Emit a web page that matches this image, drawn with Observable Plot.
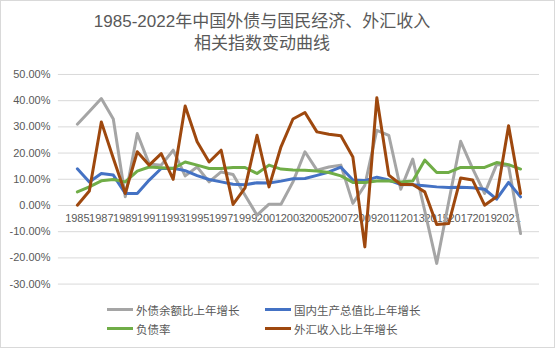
<!DOCTYPE html>
<html><head><meta charset="utf-8">
<script src="https://cdn.jsdelivr.net/npm/d3@7"></script>
<script src="https://cdn.jsdelivr.net/npm/@observablehq/plot@0.6"></script>
<style>
body{margin:0;background:#fff;}
#wrap{position:relative;width:555px;height:348px;box-sizing:border-box;border:1px solid #d9d9d9;background:#fff;overflow:hidden;}
.tl{position:absolute;left:0;width:522px;text-align:center;font-family:"Liberation Sans","Noto Sans CJK SC",sans-serif;font-size:17px;line-height:20px;height:20px;color:#595959;white-space:nowrap;}
#t1{top:11px;}
#t2{top:33px;}
#chart{position:absolute;left:-1px;top:57px;}
#legend{position:absolute;left:106px;top:299px;display:grid;grid-template-columns:158px 200px;grid-auto-rows:19px;font-family:"Noto Sans CJK SC",sans-serif;font-size:11.5px;color:#595959;}
.item{display:flex;align-items:center;white-space:nowrap;}
.sw{width:26px;height:3px;margin-right:3px;}
</style>
</head><body>
<div id="wrap">
  <div class="tl" id="t1">1985-2022年中国外债与国民经济、外汇收入</div>
  <div class="tl" id="t2">相关指数变动曲线</div>
  <div id="chart"></div>
  <div id="legend"></div>
</div>
<script>
const years = [1985,1986,1987,1988,1989,1990,1991,1992,1993,1994,1995,1996,1997,1998,1999,2000,2001,2002,2003,2004,2005,2006,2007,2008,2009,2010,2011,2012,2013,2014,2015,2016,2017,2018,2019,2020,2021,2022];
const xTickLabels = [1985,1987,1989,1991,1993,1995,1997,1999,2001,2003,2005,2007,2009,2011,2013,2015,2017,2019,2021];
const yTicks = [-30,-20,-10,0,10,20,30,40,50];
const seriesNames = ["外债余额比上年增长","国内生产总值比上年增长","负债率","外汇收入比上年增长"];
const seriesColors = ["#A5A5A5","#4472C4","#70AD47","#9E480E"];

const debtGrowth = [31.0,35.9,40.8,33.0,3.3,27.5,15.8,15.4,21.1,11.3, 14.7,9.0,12.8,11.8,3.9,-3.7,0.5,0.5,9.0,20.5, 13.5,14.7,15.4,0.8,7.7,28.7,26.8,6.2,17.7,-2.0, -22.1,1.3,24.5,14.1,4.6,15.6,15.1,-10.7];
const gdpGrowth = [14.0,9.0,12.2,11.6,4.6,4.6,9.7,14.1,14.2,13.3, 11.4,9.9,9.0,8.1,7.9,8.7,8.6,9.3,10.2,10.3, 11.5,12.8,14.6,9.7,9.5,10.8,9.7,8.0,7.9,7.5, 7.1,6.9,7.0,6.8,6.2,2.4,8.8,3.3];
const debtRatio = [5.2,7.1,9.4,9.9,9.0,13.1,14.7,14.4,14.1,16.6, 15.4,14.1,14.1,14.5,14.5,12.2,15.4,13.9,13.5,13.4, 13.2,12.6,11.3,8.8,8.8,9.3,9.3,9.0,9.3,17.3, 12.6,12.6,14.5,14.5,14.5,16.4,15.6,13.9];
const fxIncome = [0.1,5.5,31.9,18.0,4.6,20.5,15.4,19.8,10.0,38.0, 24.3,16.6,21.1,0.4,6.7,26.8,7.1,22.4,33.0,35.5, 28.1,27.2,26.6,18.5,-15.8,41.1,11.6,8.0,8.0,5.2, -7.3,-6.9,10.5,9.7,0.1,3.3,30.4,4.6];

const seriesValues = [debtGrowth, gdpGrowth, debtRatio, fxIncome];
const table = seriesNames.flatMap((name, s) => years.map((year, i) => ({year, value: seriesValues[s][i], series: name})));

const chart = Plot.plot({
  width: 555,
  height: 240,
  marginLeft: 58,
  marginRight: 15,
  marginTop: 16,
  marginBottom: 14,
  style: {fontFamily: "Liberation Sans, sans-serif", fontSize: "11px", color: "#595959", background: "transparent"},
  x: {type: "point", domain: years, padding: 0.5, axis: null},
  y: {domain: [-30, 50], ticks: yTicks, tickFormat: d => d.toFixed(2) + "%", tickSize: 0, tickPadding: 8, label: null},
  color: {domain: seriesNames, range: seriesColors},
  marks: [
    Plot.ruleY(yTicks, {stroke: "#d9d9d9", strokeWidth: 1}),
    Plot.text(xTickLabels, {x: d => d, y: 0, dy: 13, text: d => String(d), fill: "#595959", fontSize: 11}),
    Plot.line(table, {x: "year", y: "value", z: "series", stroke: "series", strokeWidth: 3, strokeLinejoin: "round", strokeLinecap: "round"})
  ]
});
document.getElementById("chart").appendChild(chart);

const legend = document.getElementById("legend");
seriesNames.forEach((name, i) => {
  const it = document.createElement("div");
  it.className = "item";
  const sw = document.createElement("span");
  sw.className = "sw";
  sw.style.background = seriesColors[i];
  const tx = document.createElement("span");
  tx.textContent = name;
  it.appendChild(sw); it.appendChild(tx);
  legend.appendChild(it);
});
</script>
</body></html>
